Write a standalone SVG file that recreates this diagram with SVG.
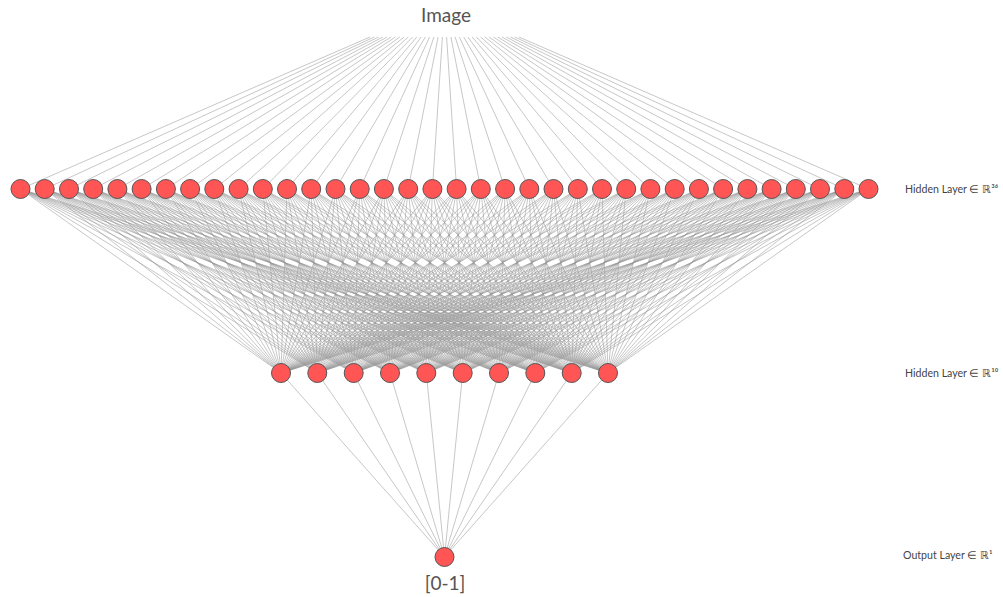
<svg xmlns="http://www.w3.org/2000/svg" width="1003" height="597" viewBox="0 0 1003 597">
<style>
.edge{fill:none;stroke:#999;stroke-width:0.55}
.node{fill:#ff5555;stroke:#555;stroke-width:1}
.big{font-family:Lato,"Open Sans",sans-serif;fill:#555}
.lbl{font-family:Lato,"Open Sans",sans-serif;font-size:10.6px;fill:#444}
</style>
<rect width="1003" height="597" fill="#fff"/>
<g id="connectors">
<path class="edge" d="M370 37L20.5 189M374.3 37L44.7 189M378.5 37L69 189M382.8 37L93.2 189M387 37L117.4 189M391.3 37L141.6 189M395.5 37L165.9 189M399.8 37L190.1 189M404.1 37L214.3 189M408.3 37L238.6 189M412.6 37L262.8 189M416.8 37L287 189M421.1 37L311.2 189M425.3 37L335.5 189M429.6 37L359.7 189M433.9 37L383.9 189M438.1 37L408.2 189M442.4 37L432.4 189M446.6 37L456.6 189M450.9 37L480.8 189M455.1 37L505.1 189M459.4 37L529.3 189M463.7 37L553.5 189M467.9 37L577.8 189M472.2 37L602 189M476.4 37L626.2 189M480.7 37L650.4 189M484.9 37L674.7 189M489.2 37L698.9 189M493.5 37L723.1 189M497.7 37L747.4 189M502 37L771.6 189M506.2 37L795.8 189M510.5 37L820 189M514.7 37L844.3 189M519 37L868.5 189"/>
<path class="edge" d="M281 373L20.5 189M281 373L44.7 189M281 373L69 189M281 373L93.2 189M281 373L117.4 189M281 373L141.6 189M281 373L165.9 189M281 373L190.1 189M281 373L214.3 189M281 373L238.6 189M281 373L262.8 189M281 373L287 189M281 373L311.2 189M281 373L335.5 189M281 373L359.7 189M281 373L383.9 189M281 373L408.2 189M281 373L432.4 189M281 373L456.6 189M281 373L480.8 189M281 373L505.1 189M281 373L529.3 189M281 373L553.5 189M281 373L577.8 189M281 373L602 189M281 373L626.2 189M281 373L650.4 189M281 373L674.7 189M281 373L698.9 189M281 373L723.1 189M281 373L747.4 189M281 373L771.6 189M281 373L795.8 189M281 373L820 189M281 373L844.3 189M281 373L868.5 189"/>
<path class="edge" d="M317.3 373L20.5 189M317.3 373L44.7 189M317.3 373L69 189M317.3 373L93.2 189M317.3 373L117.4 189M317.3 373L141.6 189M317.3 373L165.9 189M317.3 373L190.1 189M317.3 373L214.3 189M317.3 373L238.6 189M317.3 373L262.8 189M317.3 373L287 189M317.3 373L311.2 189M317.3 373L335.5 189M317.3 373L359.7 189M317.3 373L383.9 189M317.3 373L408.2 189M317.3 373L432.4 189M317.3 373L456.6 189M317.3 373L480.8 189M317.3 373L505.1 189M317.3 373L529.3 189M317.3 373L553.5 189M317.3 373L577.8 189M317.3 373L602 189M317.3 373L626.2 189M317.3 373L650.4 189M317.3 373L674.7 189M317.3 373L698.9 189M317.3 373L723.1 189M317.3 373L747.4 189M317.3 373L771.6 189M317.3 373L795.8 189M317.3 373L820 189M317.3 373L844.3 189M317.3 373L868.5 189"/>
<path class="edge" d="M353.7 373L20.5 189M353.7 373L44.7 189M353.7 373L69 189M353.7 373L93.2 189M353.7 373L117.4 189M353.7 373L141.6 189M353.7 373L165.9 189M353.7 373L190.1 189M353.7 373L214.3 189M353.7 373L238.6 189M353.7 373L262.8 189M353.7 373L287 189M353.7 373L311.2 189M353.7 373L335.5 189M353.7 373L359.7 189M353.7 373L383.9 189M353.7 373L408.2 189M353.7 373L432.4 189M353.7 373L456.6 189M353.7 373L480.8 189M353.7 373L505.1 189M353.7 373L529.3 189M353.7 373L553.5 189M353.7 373L577.8 189M353.7 373L602 189M353.7 373L626.2 189M353.7 373L650.4 189M353.7 373L674.7 189M353.7 373L698.9 189M353.7 373L723.1 189M353.7 373L747.4 189M353.7 373L771.6 189M353.7 373L795.8 189M353.7 373L820 189M353.7 373L844.3 189M353.7 373L868.5 189"/>
<path class="edge" d="M390 373L20.5 189M390 373L44.7 189M390 373L69 189M390 373L93.2 189M390 373L117.4 189M390 373L141.6 189M390 373L165.9 189M390 373L190.1 189M390 373L214.3 189M390 373L238.6 189M390 373L262.8 189M390 373L287 189M390 373L311.2 189M390 373L335.5 189M390 373L359.7 189M390 373L383.9 189M390 373L408.2 189M390 373L432.4 189M390 373L456.6 189M390 373L480.8 189M390 373L505.1 189M390 373L529.3 189M390 373L553.5 189M390 373L577.8 189M390 373L602 189M390 373L626.2 189M390 373L650.4 189M390 373L674.7 189M390 373L698.9 189M390 373L723.1 189M390 373L747.4 189M390 373L771.6 189M390 373L795.8 189M390 373L820 189M390 373L844.3 189M390 373L868.5 189"/>
<path class="edge" d="M426.3 373L20.5 189M426.3 373L44.7 189M426.3 373L69 189M426.3 373L93.2 189M426.3 373L117.4 189M426.3 373L141.6 189M426.3 373L165.9 189M426.3 373L190.1 189M426.3 373L214.3 189M426.3 373L238.6 189M426.3 373L262.8 189M426.3 373L287 189M426.3 373L311.2 189M426.3 373L335.5 189M426.3 373L359.7 189M426.3 373L383.9 189M426.3 373L408.2 189M426.3 373L432.4 189M426.3 373L456.6 189M426.3 373L480.8 189M426.3 373L505.1 189M426.3 373L529.3 189M426.3 373L553.5 189M426.3 373L577.8 189M426.3 373L602 189M426.3 373L626.2 189M426.3 373L650.4 189M426.3 373L674.7 189M426.3 373L698.9 189M426.3 373L723.1 189M426.3 373L747.4 189M426.3 373L771.6 189M426.3 373L795.8 189M426.3 373L820 189M426.3 373L844.3 189M426.3 373L868.5 189"/>
<path class="edge" d="M462.7 373L20.5 189M462.7 373L44.7 189M462.7 373L69 189M462.7 373L93.2 189M462.7 373L117.4 189M462.7 373L141.6 189M462.7 373L165.9 189M462.7 373L190.1 189M462.7 373L214.3 189M462.7 373L238.6 189M462.7 373L262.8 189M462.7 373L287 189M462.7 373L311.2 189M462.7 373L335.5 189M462.7 373L359.7 189M462.7 373L383.9 189M462.7 373L408.2 189M462.7 373L432.4 189M462.7 373L456.6 189M462.7 373L480.8 189M462.7 373L505.1 189M462.7 373L529.3 189M462.7 373L553.5 189M462.7 373L577.8 189M462.7 373L602 189M462.7 373L626.2 189M462.7 373L650.4 189M462.7 373L674.7 189M462.7 373L698.9 189M462.7 373L723.1 189M462.7 373L747.4 189M462.7 373L771.6 189M462.7 373L795.8 189M462.7 373L820 189M462.7 373L844.3 189M462.7 373L868.5 189"/>
<path class="edge" d="M499 373L20.5 189M499 373L44.7 189M499 373L69 189M499 373L93.2 189M499 373L117.4 189M499 373L141.6 189M499 373L165.9 189M499 373L190.1 189M499 373L214.3 189M499 373L238.6 189M499 373L262.8 189M499 373L287 189M499 373L311.2 189M499 373L335.5 189M499 373L359.7 189M499 373L383.9 189M499 373L408.2 189M499 373L432.4 189M499 373L456.6 189M499 373L480.8 189M499 373L505.1 189M499 373L529.3 189M499 373L553.5 189M499 373L577.8 189M499 373L602 189M499 373L626.2 189M499 373L650.4 189M499 373L674.7 189M499 373L698.9 189M499 373L723.1 189M499 373L747.4 189M499 373L771.6 189M499 373L795.8 189M499 373L820 189M499 373L844.3 189M499 373L868.5 189"/>
<path class="edge" d="M535.3 373L20.5 189M535.3 373L44.7 189M535.3 373L69 189M535.3 373L93.2 189M535.3 373L117.4 189M535.3 373L141.6 189M535.3 373L165.9 189M535.3 373L190.1 189M535.3 373L214.3 189M535.3 373L238.6 189M535.3 373L262.8 189M535.3 373L287 189M535.3 373L311.2 189M535.3 373L335.5 189M535.3 373L359.7 189M535.3 373L383.9 189M535.3 373L408.2 189M535.3 373L432.4 189M535.3 373L456.6 189M535.3 373L480.8 189M535.3 373L505.1 189M535.3 373L529.3 189M535.3 373L553.5 189M535.3 373L577.8 189M535.3 373L602 189M535.3 373L626.2 189M535.3 373L650.4 189M535.3 373L674.7 189M535.3 373L698.9 189M535.3 373L723.1 189M535.3 373L747.4 189M535.3 373L771.6 189M535.3 373L795.8 189M535.3 373L820 189M535.3 373L844.3 189M535.3 373L868.5 189"/>
<path class="edge" d="M571.7 373L20.5 189M571.7 373L44.7 189M571.7 373L69 189M571.7 373L93.2 189M571.7 373L117.4 189M571.7 373L141.6 189M571.7 373L165.9 189M571.7 373L190.1 189M571.7 373L214.3 189M571.7 373L238.6 189M571.7 373L262.8 189M571.7 373L287 189M571.7 373L311.2 189M571.7 373L335.5 189M571.7 373L359.7 189M571.7 373L383.9 189M571.7 373L408.2 189M571.7 373L432.4 189M571.7 373L456.6 189M571.7 373L480.8 189M571.7 373L505.1 189M571.7 373L529.3 189M571.7 373L553.5 189M571.7 373L577.8 189M571.7 373L602 189M571.7 373L626.2 189M571.7 373L650.4 189M571.7 373L674.7 189M571.7 373L698.9 189M571.7 373L723.1 189M571.7 373L747.4 189M571.7 373L771.6 189M571.7 373L795.8 189M571.7 373L820 189M571.7 373L844.3 189M571.7 373L868.5 189"/>
<path class="edge" d="M608 373L20.5 189M608 373L44.7 189M608 373L69 189M608 373L93.2 189M608 373L117.4 189M608 373L141.6 189M608 373L165.9 189M608 373L190.1 189M608 373L214.3 189M608 373L238.6 189M608 373L262.8 189M608 373L287 189M608 373L311.2 189M608 373L335.5 189M608 373L359.7 189M608 373L383.9 189M608 373L408.2 189M608 373L432.4 189M608 373L456.6 189M608 373L480.8 189M608 373L505.1 189M608 373L529.3 189M608 373L553.5 189M608 373L577.8 189M608 373L602 189M608 373L626.2 189M608 373L650.4 189M608 373L674.7 189M608 373L698.9 189M608 373L723.1 189M608 373L747.4 189M608 373L771.6 189M608 373L795.8 189M608 373L820 189M608 373L844.3 189M608 373L868.5 189"/>
<path class="edge" d="M281 373L444.5 557M317.3 373L444.5 557M353.7 373L444.5 557M390 373L444.5 557M426.3 373L444.5 557M462.7 373L444.5 557M499 373L444.5 557M535.3 373L444.5 557M571.7 373L444.5 557M608 373L444.5 557"/>
</g>
<g id="layer1">
<circle class="node" cx="20.5" cy="189" r="9.5"/><circle class="node" cx="44.7" cy="189" r="9.5"/><circle class="node" cx="69" cy="189" r="9.5"/><circle class="node" cx="93.2" cy="189" r="9.5"/><circle class="node" cx="117.4" cy="189" r="9.5"/><circle class="node" cx="141.6" cy="189" r="9.5"/><circle class="node" cx="165.9" cy="189" r="9.5"/><circle class="node" cx="190.1" cy="189" r="9.5"/><circle class="node" cx="214.3" cy="189" r="9.5"/><circle class="node" cx="238.6" cy="189" r="9.5"/><circle class="node" cx="262.8" cy="189" r="9.5"/><circle class="node" cx="287" cy="189" r="9.5"/><circle class="node" cx="311.2" cy="189" r="9.5"/><circle class="node" cx="335.5" cy="189" r="9.5"/><circle class="node" cx="359.7" cy="189" r="9.5"/><circle class="node" cx="383.9" cy="189" r="9.5"/><circle class="node" cx="408.2" cy="189" r="9.5"/><circle class="node" cx="432.4" cy="189" r="9.5"/><circle class="node" cx="456.6" cy="189" r="9.5"/><circle class="node" cx="480.8" cy="189" r="9.5"/><circle class="node" cx="505.1" cy="189" r="9.5"/><circle class="node" cx="529.3" cy="189" r="9.5"/><circle class="node" cx="553.5" cy="189" r="9.5"/><circle class="node" cx="577.8" cy="189" r="9.5"/><circle class="node" cx="602" cy="189" r="9.5"/><circle class="node" cx="626.2" cy="189" r="9.5"/><circle class="node" cx="650.4" cy="189" r="9.5"/><circle class="node" cx="674.7" cy="189" r="9.5"/><circle class="node" cx="698.9" cy="189" r="9.5"/><circle class="node" cx="723.1" cy="189" r="9.5"/><circle class="node" cx="747.4" cy="189" r="9.5"/><circle class="node" cx="771.6" cy="189" r="9.5"/><circle class="node" cx="795.8" cy="189" r="9.5"/><circle class="node" cx="820" cy="189" r="9.5"/><circle class="node" cx="844.3" cy="189" r="9.5"/><circle class="node" cx="868.5" cy="189" r="9.5"/>
</g>
<g id="layer2">
<circle class="node" cx="281" cy="373" r="9.5"/><circle class="node" cx="317.3" cy="373" r="9.5"/><circle class="node" cx="353.7" cy="373" r="9.5"/><circle class="node" cx="390" cy="373" r="9.5"/><circle class="node" cx="426.3" cy="373" r="9.5"/><circle class="node" cx="462.7" cy="373" r="9.5"/><circle class="node" cx="499" cy="373" r="9.5"/><circle class="node" cx="535.3" cy="373" r="9.5"/><circle class="node" cx="571.7" cy="373" r="9.5"/><circle class="node" cx="608" cy="373" r="9.5"/>
</g>
<g id="output">
<circle class="node" cx="444.5" cy="557" r="9.5"/>
</g>
<g id="labels">
<text class="big" x="446" y="22" font-size="19" text-anchor="middle">Image</text>
<text class="big" x="445" y="590" font-size="19" text-anchor="middle">[0-1]</text>
<text class="lbl" x="905" y="193">Hidden Layer ∈ ℝ³⁶</text>
<text class="lbl" x="905" y="377">Hidden Layer ∈ ℝ¹⁰</text>
<text class="lbl" x="903" y="559">Output Layer ∈ ℝ¹</text>
</g>
</svg>
